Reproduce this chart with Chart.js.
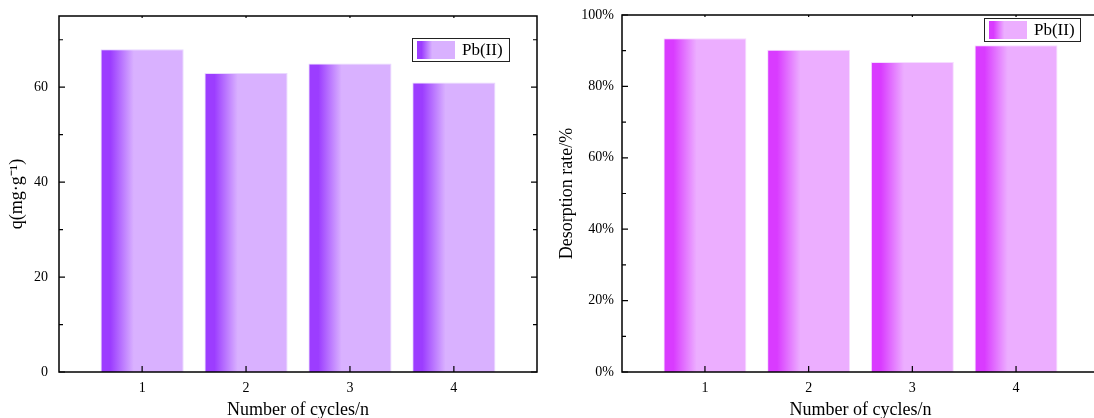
<!DOCTYPE html>
<html>
<head>
<meta charset="utf-8">
<script src="https://cdn.jsdelivr.net/npm/chart.js@4"></script>
<style>
    html, body { margin: 0; padding: 0; background: #fff; overflow: hidden; }
    #qChart { position: absolute; left: 0; top: 0; }
    #rateChart { position: absolute; left: 547px; top: 0; }
</style>
</head>
<body>
<canvas id="qChart" width="547" height="418"></canvas>
<canvas id="rateChart" width="553" height="418"></canvas>
<script>
const cycles = [1, 2, 3, 4];
const qValues = [68, 63, 65, 61];
const rateValues = [93.5, 90.3, 86.8, 91.5];
const qTicks = [0, 20, 40, 60];
const rateTicks = [0, 20, 40, 60, 80, 100];
const seriesLabel = "Pb(II)";

const FONT = "'Liberation Serif', 'Times New Roman', serif";

function shade(ctx, left, width, dark, light) {
    const g = ctx.createLinearGradient(left, 0, left + width, 0);
    g.addColorStop(0, dark);
    g.addColorStop(0.12, dark);
    g.addColorStop(0.4, light);
    g.addColorStop(1, light);
    return g;
}

// frame, inner ticks, gradient bars and the boxed legend
const framePlugin = {
    id: "frame",
    beforeDatasetsDraw(chart, args, opts) {
        chart.getDatasetMeta(0).data.forEach(bar => {
            const p = bar.getProps(["x", "width"], true);
            const g = shade(chart.ctx, p.x - p.width / 2, p.width, opts.dark, opts.light);
            bar.options = Object.assign({}, bar.options, { backgroundColor: g });
        });
    },
    afterDraw(chart, args, opts) {
        const { ctx, chartArea: a, scales: { x, y } } = chart;
        ctx.save();
        ctx.strokeStyle = "#000";
        ctx.lineWidth = 1.5;
        ctx.strokeRect(a.left, a.top, a.right - a.left, a.bottom - a.top);

        ctx.lineWidth = 1.2;
        ctx.beginPath();
        const half = (y.ticks[1].value - y.ticks[0].value) / 2;
        y.ticks.forEach(t => {
            const py = y.getPixelForValue(t.value);
            ctx.moveTo(a.left, py); ctx.lineTo(a.left + 6, py);
            if (opts.mirror) { ctx.moveTo(a.right, py); ctx.lineTo(a.right - 6, py); }
            if (t.value + half < y.max) {
                const pm = y.getPixelForValue(t.value + half);
                ctx.moveTo(a.left, pm); ctx.lineTo(a.left + 4, pm);
                if (opts.mirror) { ctx.moveTo(a.right, pm); ctx.lineTo(a.right - 4, pm); }
            }
        });
        x.ticks.forEach(t => {
            const px = x.getPixelForValue(t.value);
            ctx.moveTo(px, a.bottom); ctx.lineTo(px, a.bottom - 6);
            ctx.moveTo(px, a.top); ctx.lineTo(px, a.top + 2);
        });
        ctx.stroke();

        // legend
        const bx = a.right - opts.legendRight - opts.legendW;
        const by = a.top + opts.legendTop;
        ctx.lineWidth = 1;
        ctx.strokeStyle = "#222";
        ctx.strokeRect(bx + 0.5, by + 0.5, opts.legendW, 23);
        ctx.fillStyle = shade(ctx, bx + 5, 38, opts.dark, opts.light);
        ctx.fillRect(bx + 5, by + 3, 38, 18);
        ctx.fillStyle = "#000";
        ctx.font = "17px " + FONT;
        ctx.textBaseline = "middle";
        ctx.fillText(chart.data.datasets[0].label, bx + 50, by + 13);
        ctx.restore();
    }
};

function buildChart(id, values, cfg) {
    const ctx = document.getElementById(id).getContext("2d");
    return new Chart(ctx, {
        type: "bar",
        data: {
            datasets: [{
                label: seriesLabel,
                data: cycles.map((c, i) => ({ x: c, y: values[i] })),
                backgroundColor: cfg.light,
                borderColor: cfg.edge,
                borderWidth: { top: 1, left: 1, right: 1, bottom: 0 },
                categoryPercentage: 1,
                barPercentage: 0.8
            }]
        },
        options: {
            responsive: false,
            animation: false,
            devicePixelRatio: 1,
            layout: { padding: cfg.padding },
            plugins: {
                legend: { display: false },
                tooltip: { enabled: false },
                frame: {
                    dark: cfg.dark, light: cfg.light, mirror: cfg.mirror,
                    legendRight: cfg.legendRight, legendTop: cfg.legendTop, legendW: cfg.legendW
                }
            },
            scales: {
                x: {
                    type: "linear",
                    offset: false,
                    min: 0.2,
                    max: 4.8,
                    afterBuildTicks: s => { s.ticks = cycles.map(v => ({ value: v })); },
                    afterFit: s => { s.height = 46; s.paddingLeft = 0; s.paddingRight = 0; },
                    grid: { display: false, drawTicks: false },
                    border: { display: false },
                    ticks: {
                        color: "#000",
                        font: { family: FONT, size: 14 },
                        padding: 8,
                        maxRotation: 0,
                        autoSkip: false,
                        callback: v => String(v)
                    },
                    title: {
                        display: true,
                        text: "Number of cycles/n",
                        color: "#000",
                        font: { family: FONT, size: 18, lineHeight: 0.9 },
                        padding: 0
                    }
                },
                y: {
                    min: 0,
                    max: cfg.yMax,
                    afterBuildTicks: s => { s.ticks = cfg.yTicks.map(v => ({ value: v })); },
                    afterFit: s => { s.width = cfg.yWidth; s.paddingTop = 0; s.paddingBottom = 0; },
                    grid: { display: false, drawTicks: false },
                    border: { display: false },
                    ticks: {
                        color: "#000",
                        font: { family: FONT, size: 14 },
                        padding: cfg.tickPad,
                        callback: cfg.tickFormat
                    },
                    title: {
                        display: true,
                        text: cfg.yTitle,
                        color: "#000",
                        font: { family: FONT, size: 18, lineHeight: 1.2 },
                        padding: { top: cfg.titlePad, bottom: 0 }
                    }
                }
            }
        },
        plugins: [framePlugin]
    });
}

document.addEventListener("DOMContentLoaded", function() {
    buildChart("qChart", qValues, {
        dark: "#9c3dff", light: "#d9b1ff", edge: "#e9d8ff", mirror: true,
        padding: { left: 0, right: 10, top: 16, bottom: 0 },
        yMax: 75, yTicks: qTicks, yWidth: 59, tickPad: 11, titlePad: 6,
        yTitle: "q(mg·g⁻¹)",
        tickFormat: v => String(v),
        legendRight: 28, legendTop: 22, legendW: 97
    });
    buildChart("rateChart", rateValues, {
        dark: "#d93bff", light: "#ecaeff", edge: "#f6dcff", mirror: false,
        padding: { left: 0, right: 1, top: 15, bottom: 0 },
        yMax: 100, yTicks: rateTicks, yWidth: 75, tickPad: 8, titlePad: 9,
        yTitle: "Desorption rate/%",
        tickFormat: v => v + "%",
        legendRight: 19, legendTop: 3, legendW: 96
    });
});
</script>
</body>
</html>
